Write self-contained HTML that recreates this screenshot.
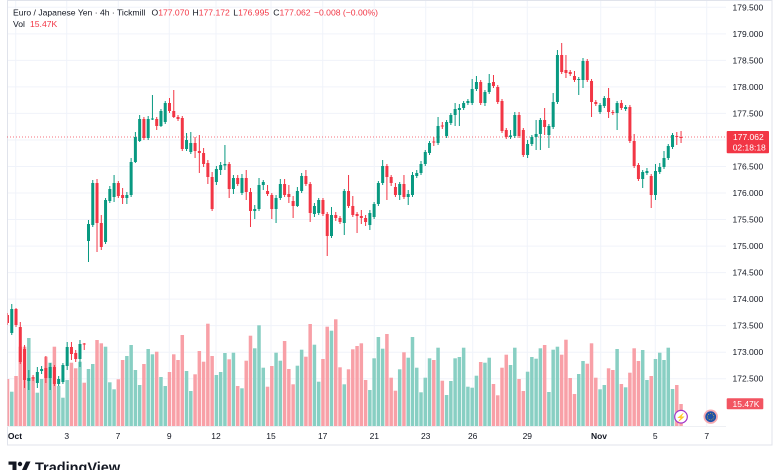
<!DOCTYPE html>
<html><head><meta charset="utf-8">
<style>
html,body{margin:0;padding:0;background:#fff;}
svg{display:block;font-family:"Liberation Sans",sans-serif;}
</style></head>
<body>
<svg id="s" width="780" height="470" viewBox="0 0 780 470" xmlns="http://www.w3.org/2000/svg">
<rect x="0" y="0" width="780" height="470" fill="#ffffff"/>
<g id="grid" stroke="#f0f3fa" stroke-width="1"></g>
<rect x="7.5" y="0.5" width="764.5" height="444.5" fill="none" stroke="#e0e3eb" stroke-width="1"/>
<line x1="7" y1="426.5" x2="726" y2="426.5" stroke="#eef0f4" stroke-width="1"/>
<g id="vol"></g>
<line x1="7" y1="137" x2="726" y2="137" stroke="#F23645" stroke-width="1" stroke-dasharray="1,2" opacity="0.7"/>
<clipPath id="cp"><rect x="7.5" y="0" width="719" height="426"/></clipPath>
<g id="cdl" clip-path="url(#cp)"></g>

<!-- header -->
<text font-size="8.6" fill="#131722" y="15.5">
<tspan x="13">Euro / Japanese Yen · 4h · Tickmill</tspan>
<tspan x="151.5">O</tspan><tspan fill="#F23645">177.070</tspan>
<tspan x="192.5">H</tspan><tspan fill="#F23645">177.172</tspan>
<tspan x="233.3">L</tspan><tspan fill="#F23645">176.995</tspan>
<tspan x="273.3">C</tspan><tspan fill="#F23645">177.062</tspan>
<tspan x="314" fill="#F23645">−0.008 (−0.00%)</tspan>
</text>
<text font-size="8.6" fill="#131722" y="27">
<tspan x="13">Vol</tspan><tspan x="30" fill="#F23645">15.47K</tspan>
</text>

<!-- price axis -->
<g font-size="8.5" fill="#131722" id="pax"></g>
<rect x="726.7" y="131" width="42.3" height="22.3" fill="#F23645" rx="1"/>
<text font-size="8.5" fill="#ffffff" x="733" y="140">177.062</text>
<text font-size="8.5" fill="#ffffff" x="732.7" y="150.5">02:18:18</text>
<rect x="726.7" y="398.3" width="36.6" height="11" fill="#F25461" rx="1"/>
<text font-size="8.5" fill="#ffffff" x="732.5" y="406.8">15.47K</text>

<!-- time axis -->
<g font-size="8.5" fill="#131722" text-anchor="middle">
<text x="15" y="439" font-weight="bold">Oct</text>
<text x="66.7" y="439">3</text>
<text x="118" y="439">7</text>
<text x="169.3" y="439">9</text>
<text x="216" y="439">12</text>
<text x="271" y="439">15</text>
<text x="322.7" y="439">17</text>
<text x="374.3" y="439">21</text>
<text x="425.7" y="439">23</text>
<text x="472.7" y="439">26</text>
<text x="527.3" y="439">29</text>
<text x="599" y="439" font-weight="bold">Nov</text>
<text x="655.3" y="439">5</text>
<text x="706.7" y="439">7</text>
</g>

<!-- event icons -->
<circle cx="681" cy="416.7" r="6.3" fill="#ffffff" stroke="#a334c9" stroke-width="1.2"/>
<text x="681" y="420" font-size="8" fill="#a334c9" text-anchor="middle">⚡</text>
<circle cx="710.7" cy="416.7" r="7.2" fill="#f7aab1"/>
<circle cx="710.7" cy="416.7" r="5.4" fill="#1f50a6"/>
<circle cx="710.7" cy="416.7" r="3.2" fill="none" stroke="#e8c23a" stroke-width="0.8" stroke-dasharray="0.8,1.2"/>

<!-- TradingView logo -->
<g fill="#131722">
<rect x="8.5" y="461.5" width="8" height="3.2"/>
<rect x="12.5" y="461.5" width="4" height="9"/>
<circle cx="20" cy="464" r="2.2"/>
<polygon points="22,470 26,461.5 30.5,461.5 26.5,470"/>
<text x="35" y="472.5" font-size="14.5" font-weight="bold">TradingView</text>
</g>
</svg>
<script>
(function(){
var NS="http://www.w3.org/2000/svg";
function el(p,n,a){var e=document.createElementNS(NS,n);for(var k in a)e.setAttribute(k,a[k]);p.appendChild(e);return e;}
// grid
var g=document.getElementById('grid');
var vx=[15.7,66.7,118.3,169.3,216,271,322.7,374.3,425.7,472.7,527.3,600.7,655.3,706.7];
vx.forEach(function(x){el(g,'line',{x1:x,y1:1,x2:x,y2:426});});
var pax=document.getElementById('pax');
for(var k=0;k<=14;k++){
  var y=7.3+k*26.53;
  el(g,'line',{x1:7.5,y1:y,x2:726,y2:y});
  var p=(179.5-k*0.5).toFixed(3);
  if(k!==5){var t=el(pax,'text',{x:732.5,y:y+3});t.textContent=p;}
}
var D="315,323,313,325,0 309,333,304,335,1 309,325,308,327,0 327,362,322,364,0 349,380,345,388,0 378,381,370,390,1 377.5,378.5,375,381,0 372,383,367,388,1 369,371,366,374,1 368,378,356,383,0 367,378,363,390,1 367,384,365,386,0 379,384,376,386,1 365,382,363,384,1 347,366,342,370,1 347,354,342,360,0 353,359,350,362,0 344,359,340,367,1 343.5,344.5,343,350,0 224,241,220,262,1 183,225,180,227,1 183,223,179,252,0 223,247,215,250,0 200,242,198,244,1 189,201,186,203,1 183,197,175,202,1 183,196,181,198,0 195,198,188,204,0 195,198,192,204,1 162,195,158,197,1 137,162,132,163,1 119,141,115,142,1 119,138,117,140,0 119,138,116,140,1 118.5,119.5,95,120,1 119,126,117,130,0 111,126,109,127,1 103,122,101,124,1 103,111,98,113,0 111,117,90,118,0 117,119,115,121,0 118,149,116,151,0 140,149,133,151,1 143,152,132,154,1 143,151,137,158,0 151,153,135,173,0 153,164,148,167,0 163,177,160,184,0 177,209,172,211,0 169,182,166,185,1 165,170,162,175,1 164,165.5,145,170,1 164,189,162,198,0 178,189,175,194,1 178,184,175,186,0 178,193,174,195,1 178,192,170,200,0 192,211,188,227,0 209,211,205,219,1 185,209,178,211,1 182,185,180,190,1 191,194,185,196,0 195,209,193,219,0 198,209,195,223,1 184,198,179,200,1 184,195,179,197,0 194,197,185,203,0 201,206,196,218,0 191,206,187,207,1 176,191,173,193,1 176,184,170,186,0 184,213,182,222,0 206,214,203,217,1 200,213,198,215,1 200,214,198,216,0 214,236,212,256,0 215,236,207,238,1 215,218,212,221,0 218,222,216,224,0 191,223,189,235,1 191,206,175,208,0 206,215,196,217,0 214,216,212,233,0 216,218,210,224,0 218,222,215,226,0 213,225,210,230,1 204,217,202,219,1 183,204,181,206,1 166,183,160,185,1 166,177,164,200,0 177,183,175,186,0 187,195,183,197,0 184,195,182,200,1 184,197,175,199,0 194,197,190,205,1 175,195,172,197,1 173,176,170,178,1 164,173,161,175,1 152,164,150,166,1 143,153,141,155,1 141.5,142.5,137,146,0 126,143,117,145,1 125.5,126.5,122,129,0 122,136,120,138,1 115,123,113,125,1 109,115,103,126,1 108,110,104,126,1 103,108,101,110,1 101,103,99,105,1 89,103,79,105,1 82,89,76,91,1 82,103,80,105,0 92,103,90,106,1 83,92,74,94,1 82,86,75,88,0 87,102,85,104,0 101,131,99,133,0 130,137,128,139,0 135.5,137,130,139,1 115,136,112,138,1 115,136,112,138,0 130,155,128,157,0 144,155,140,158,1 137,144,135,146,1 134,137,120,150,1 120,134,118,150,1 120,127,108,135,0 126,135,124,148,1 102,127,93,129,1 55,102,50,104,1 55,72,43,74,0 70,73,55,78,0 72,74,70,76,0 76,80,71,82,0 79,80,77,95,1 61,80,58,88,1 61,80,59,82,0 81,102,79,117,0 102,104,100,106,0 105,112,103,114,1 98,106,96,108,1 98,112,88,118,0 112,113,110,115,0 103,113,101,130,1 103,108,100,110,0 107,109,105,111,1 107,141,105,143,0 141,166,134,168,0 165,179,163,181,0 172,179,170,188,1 171,173,168,175,1 176,195,174,208,0 171,195,164,200,1 167,172,163,174,1 158,167,151,169,1 146,158,144,160,1 135,147,133,149,1 136,137,132,145,0 137,138,131,143,0";
var V="379 391.7 376 346.7 346.7 338 377 392.7 379 356.7 362.7 346.7 386 397.7 380 362.7 368.3 361.7 382.7 369 364 340 343.3 346.7 382.3 389.3 379.3 360 356 345 370 385 364 349 354.3 351.7 377 386 372 354.3 360 335 371 391 374.3 351 361.7 323.7 356 375 372 353 359.3 352.7 386 388.3 360.7 335.7 348.3 325.3 367.7 386.7 366 352.7 360.7 341 369 384.3 365.7 349.7 356.7 324 344.7 381.7 359 326.7 330.7 319.3 367.3 384.3 369.3 349.3 346 343.3 380 390 358.3 337 348.7 334 377.7 390.7 369.3 352.3 357.7 337 367.7 392.3 377.7 358.3 360 347.7 380.7 395 381 358.3 357 347.7 386.7 387.7 375.7 362 362.7 357.7 384 395.3 367.7 354.7 365 347.7 379 391 371.7 357 358.7 348.3 345 392 349.7 346.7 354.7 339.7 378 394 374 361 363.7 343.3 377.7 389.3 385 368.3 370 349 384 387.3 372.7 348.3 361 350 380 376 359 352.7 360 347.7 389 385 404".split(' ');
var C=D.split(' ');
var vg=document.getElementById('vol'), cg=document.getElementById('cdl');
var P=4.263, X0=7.5;
for(var i=0;i<C.length;i++){
  var a=C[i].split(',').map(Number);
  var x=X0+i*P, up=a[4]===1;
  var col=up?'#089981':'#F23645';
  var vt=Number(V[i]);
  var vx0=Math.max(7.5,x-1.75);
  el(vg,'rect',{x:vx0,y:vt,width:(x+1.75)-vx0,height:426-vt,fill:up?'#88cfc3':'#f8a0a7'});
  el(cg,'rect',{x:x-0.5,y:a[2],width:1,height:a[3]-a[2],fill:col});
  var h=Math.max(1,a[1]-a[0]);
  el(cg,'rect',{x:x-1.5,y:a[0],width:3,height:h,fill:col});
}
})();
</script>
</body></html>
